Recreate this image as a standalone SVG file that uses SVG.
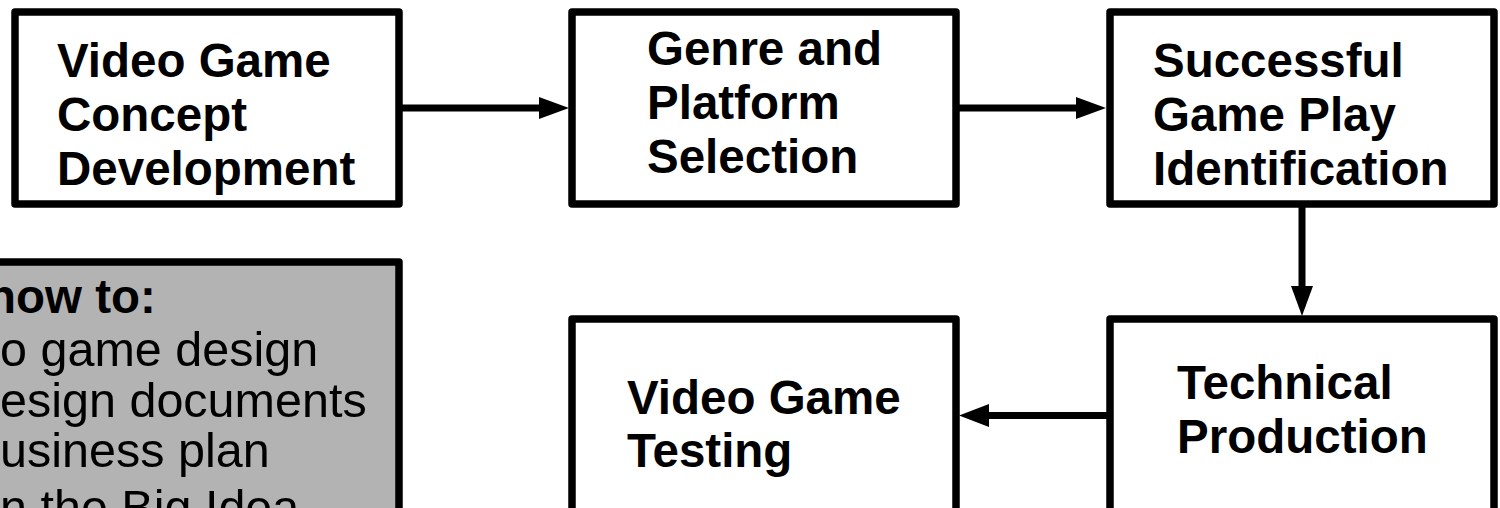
<svg xmlns="http://www.w3.org/2000/svg" width="1500" height="508" viewBox="0 0 1500 508">
<defs>
<style>
.box{fill:#ffffff;stroke:#000000;stroke-width:7.5;stroke-linejoin:round}
.gbox{fill:#b3b3b3;stroke:#000000;stroke-width:7.5;stroke-linejoin:round}
.lbl{font-family:"Liberation Sans",Arial,sans-serif;font-size:47.5px;font-weight:bold;fill:#000000}
.txt{font-family:"Liberation Sans",Arial,sans-serif;font-size:48.5px;fill:#000000}
.ln{stroke:#000000;stroke-width:7;fill:none}
.hd{fill:#000000}
</style>
</defs>
<rect width="1500" height="508" fill="#ffffff"/>
<g id="note">
<rect class="gbox" x="-100" y="262" width="499" height="300"/>
<text class="lbl" x="-13" y="313">how to:</text>
<text class="txt" x="0" y="366">o game design</text>
<text class="txt" x="0" y="417">esign documents</text>
<text class="txt" x="0" y="467">usiness plan</text>
<text class="txt" x="0" y="524">n the Big Idea</text>
</g>
<g id="concept">
<rect class="box" x="15" y="12" width="384" height="192"/>
<text class="lbl" x="57" y="77">Video Game</text>
<text class="lbl" x="57" y="131">Concept</text>
<text class="lbl" x="57" y="185">Development</text>
</g>
<g id="genre">
<rect class="box" x="572" y="12" width="384" height="192"/>
<text class="lbl" x="647" y="65">Genre and</text>
<text class="lbl" x="647" y="119">Platform</text>
<text class="lbl" x="647" y="173">Selection</text>
</g>
<g id="gameplay">
<rect class="box" x="1110" y="12" width="384" height="192"/>
<text class="lbl" x="1153" y="77">Successful</text>
<text class="lbl" x="1153" y="131">Game Play</text>
<text class="lbl" x="1153" y="185">Identification</text>
</g>
<g id="production">
<rect class="box" x="1110" y="319" width="384" height="250"/>
<text class="lbl" x="1177" y="399">Technical</text>
<text class="lbl" x="1177" y="453">Production</text>
</g>
<g id="testing">
<rect class="box" x="572" y="319" width="384" height="250"/>
<text class="lbl" x="627" y="414">Video Game</text>
<text class="lbl" x="627" y="467">Testing</text>
</g>
<g id="connectors">
<line class="ln" x1="399" y1="108" x2="541" y2="108"/>
<polygon class="hd" points="539,97 569,108 539,119"/>
<line class="ln" x1="956" y1="108" x2="1078" y2="108"/>
<polygon class="hd" points="1076,97 1106,108 1076,119"/>
<line class="ln" x1="1302" y1="204" x2="1302" y2="288"/>
<polygon class="hd" points="1291,286 1313,286 1302,316"/>
<line class="ln" x1="1110" y1="415.5" x2="987" y2="415.5"/>
<polygon class="hd" points="989,404 959,415.5 989,427"/>
</g>
</svg>
